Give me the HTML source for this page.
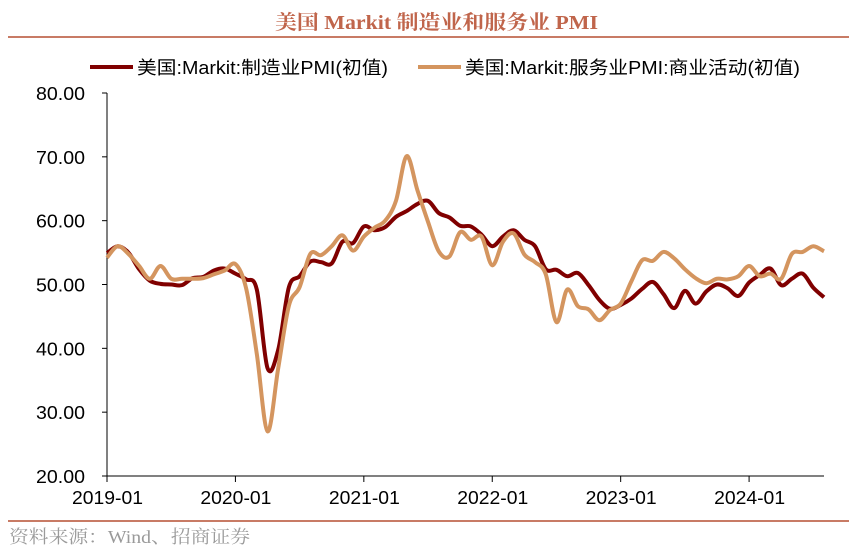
<!DOCTYPE html>
<html><head><meta charset="utf-8"><style>
body{margin:0;background:#fff;}
svg{display:block;}
</style></head><body>
<svg id="chart" width="859" height="553" xmlns="http://www.w3.org/2000/svg">
<text x="275" y="29" textLength="323" lengthAdjust="spacingAndGlyphs" font-family="'Liberation Serif','Noto Serif CJK SC',serif" font-weight="bold" font-size="20" fill="#C0654B">美国 Markit 制造业和服务业 PMI</text>
<line x1="8" y1="37" x2="849" y2="37" stroke="#C87B65" stroke-width="2"/>
<g font-family="'Liberation Sans','Noto Sans CJK SC',sans-serif" font-size="18" fill="#000">
<g>
<line x1="90" y1="67" x2="133" y2="67" stroke="#800000" stroke-width="4"/>
<text x="137" y="74" textLength="251" lengthAdjust="spacingAndGlyphs">美国:Markit:制造业PMI(初值)</text></g>
<g>
<line x1="418" y1="67" x2="461" y2="67" stroke="#D4955F" stroke-width="4"/>
<text x="465" y="74" textLength="335" lengthAdjust="spacingAndGlyphs">美国:Markit:服务业PMI:商业活动(初值)</text></g>
</g>
<g id="axes"></g>
<g id="plot"></g>
<line x1="8" y1="521" x2="849" y2="521" stroke="#C87B65" stroke-width="2"/>
<text x="9" y="543" textLength="241" lengthAdjust="spacingAndGlyphs" font-family="'Liberation Serif','Noto Serif CJK SC',serif" font-size="18" fill="#9a9a9a">资料来源：Wind、招商证券</text>
</svg>
<script>
const mfg=[54.9,56.0,55.0,52.4,50.6,50.1,50.0,49.9,51.0,51.2,52.2,52.5,
51.7,50.8,49.2,36.9,39.8,49.6,51.3,53.6,53.5,53.3,56.7,56.5,
59.1,58.5,59.0,60.6,61.5,62.6,63.1,61.2,60.5,59.2,59.1,57.8,
56.0,57.5,58.5,57.0,56.0,52.4,52.3,51.3,51.8,49.9,47.6,46.2,
46.8,47.8,49.3,50.4,48.5,46.3,49.0,47.0,48.9,50.0,49.4,48.2,
50.3,51.5,52.5,49.9,50.9,51.7,49.5,48.0];
const svc=[54.2,56.0,54.8,52.9,50.9,52.9,50.9,50.9,50.9,51.0,51.6,52.2,
53.2,49.4,39.1,27.0,36.9,46.7,49.6,54.8,54.6,56.0,57.7,55.3,
57.5,58.9,60.0,63.1,70.1,64.8,59.8,55.2,54.4,58.2,57.0,57.5,
53.0,56.7,58.0,54.7,53.5,51.6,44.1,49.2,46.6,46.1,44.4,46.0,
47.0,50.5,53.8,53.7,55.1,54.1,52.4,51.0,50.2,50.9,50.8,51.3,
52.9,51.3,51.7,50.9,54.8,55.1,56.0,55.2];
const yTicks=[20,30,40,50,60,70,80];
const xTickLabels=["2019-01","2020-01","2021-01","2022-01","2023-01","2024-01"];
const xTickIdx=[0,12,24,36,48,60];

const X0=107,X1=824,Y0=476,Y1=93,N=67;
const xs=i=>X0+(X1-X0)*i/N;
const ys=v=>Y0-(v-20)/60*(Y0-Y1);
const NS="http://www.w3.org/2000/svg";
const axes=document.getElementById('axes'),plot=document.getElementById('plot');
function mk(t,a,p){const e=document.createElementNS(NS,t);for(const k in a)e.setAttribute(k,a[k]);p.appendChild(e);return e;}
const ya=mk('line',{x1:X0,y1:Y1,x2:X0,y2:Y0,stroke:'#000','stroke-width':1},axes);


const xa=mk('line',{x1:X0,y1:Y0,x2:X1,y2:Y0,stroke:'#000','stroke-width':1},axes);


yTicks.forEach(v=>{
 const y=ys(v);
 mk('line',{x1:X0-5,y1:y,x2:X0,y2:y,stroke:'#000'},axes);
 const t=mk('text',{x:36,y:y+7,textLength:49,lengthAdjust:'spacingAndGlyphs','font-family':"'Liberation Sans',sans-serif",'font-size':18,fill:'#000'},axes);
 t.textContent=v.toFixed(2);
 
 
});
xTickIdx.forEach((ix,k)=>{
 const x=xs(ix);
 mk('line',{x1:x,y1:Y0,x2:x,y2:Y0+6,stroke:'#000'},axes);
 const t=mk('text',{x:x-35,y:Y0+28,textLength:71,lengthAdjust:'spacingAndGlyphs','font-family':"'Liberation Sans',sans-serif",'font-size':18,fill:'#000'},axes);
 t.textContent=xTickLabels[k];
 
 
});
function path(vals){
 const p=vals.map((v,i)=>[xs(i),ys(v)]);
 let d='M'+p[0][0]+','+p[0][1];
 for(let i=0;i<p.length-1;i++){
  const a=p[Math.max(i-1,0)],b=p[i],c=p[i+1],e=p[Math.min(i+2,p.length-1)];
  d+=' C'+(b[0]+(c[0]-a[0])/6)+','+(b[1]+(c[1]-a[1])/6)+' '+(c[0]-(e[0]-b[0])/6)+','+(c[1]-(e[1]-b[1])/6)+' '+c[0]+','+c[1];
 }
 return d;
}
const l1=mk('path',{d:path(mfg),fill:'none',stroke:'#800000','stroke-width':4,'stroke-linejoin':'round'},plot);


const l2=mk('path',{d:path(svc),fill:'none',stroke:'#D4955F','stroke-width':4,'stroke-linejoin':'round'},plot);


</script>
</body></html>
